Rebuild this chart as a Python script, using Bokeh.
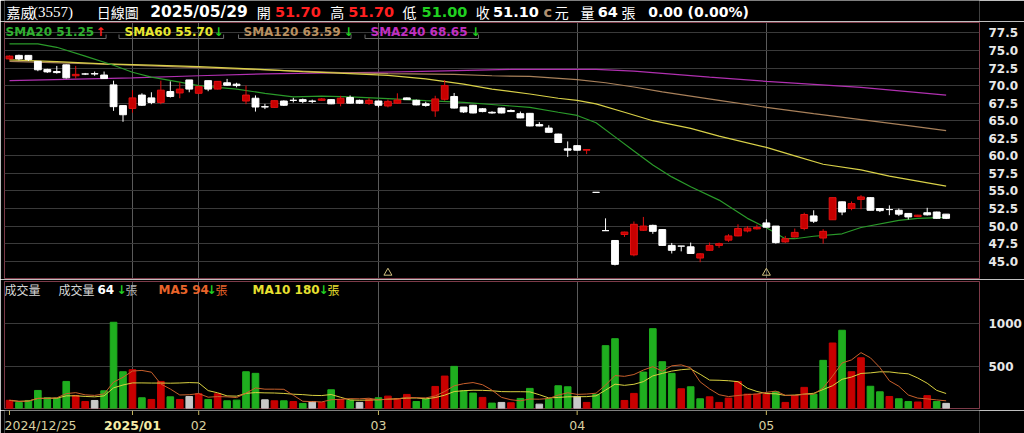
import numpy as np
import pandas as pd
from bokeh.plotting import figure
from bokeh.models import ColumnDataSource, FixedTicker, Label, Range1d, NumeralTickFormatter
from bokeh.layouts import column
from bokeh.embed import file_html
from bokeh.resources import INLINE

# ---------------- data ----------------
tick_idx = [0, 13, 20, 39, 60, 80]
tick_labels = ["2024/12/25", "2025/01", "02", "03", "04", "05"]
month_line_idx = [13, 20, 39, 60, 80]

opens = [73.8, 74.3, 74.3, 73.45, 72.3, 72.0, 72.95, 71.4, 71.65, 71.7,
         71.5, 70.1, 67.15, 66.75, 68.65, 68.25, 67.6, 69.15, 68.95, 70.8,
         68.9, 70.7, 69.5, 70.4, 70.2, 67.8, 68.2, 67.0, 66.9, 67.8,
         67.9, 68.0, 67.8, 67.9, 68.0, 67.5, 68.3, 67.9, 67.46, 67.8,
         67.1, 67.5, 68.25, 67.9, 67.4, 66.4, 68.05, 68.45, 66.95, 67.2,
         66.7, 66.2, 66.8, 66.45, 66.0, 66.05, 64.45, 63.95, 63.1, 61.0,
         61.45, 60.8, 54.8, 49.35, 47.95, 48.8, 45.9, 49.4, 50.1, 49.5,
         47.25, 47.15, 47.05, 45.45, 46.55, 47.25, 48.0, 48.6, 49.3, 49.6,
         50.45, 50.0, 47.75, 48.45, 49.65, 51.45, 48.3, 50.9, 53.45, 52.5,
         53.8, 54.05, 52.5, 52.35, 52.25, 51.8, 51.35, 51.9, 52.0, 51.7]
highs = [74.3, 74.4, 74.35, 73.5, 72.4, 72.8, 73.0, 72.8, 71.8, 72.0,
         72.0, 70.7, 67.15, 69.35, 68.9, 69.05, 70.7, 70.6, 70.45, 70.8,
         70.0, 70.7, 70.65, 70.95, 70.4, 70.0, 68.6, 67.4, 67.9, 67.9,
         68.25, 68.15, 68.0, 68.2, 68.05, 68.55, 68.6, 68.0, 68.2, 67.85,
         68.0, 68.9, 68.3, 68.0, 67.7, 68.55, 70.8, 68.95, 66.95, 67.25,
         66.8, 66.35, 66.85, 66.6, 66.3, 66.1, 64.8, 64.35, 63.15, 62.05,
         61.5, 60.95, 54.8, 51.1, 47.95, 49.2, 50.65, 51.3, 50.2, 49.55,
         47.6, 47.15, 47.65, 46.15, 47.65, 47.65, 48.85, 50.25, 50.0, 50.2,
         50.95, 50.0, 48.6, 49.65, 51.9, 52.25, 49.55, 54.05, 53.5, 53.5,
         54.4, 54.1, 52.5, 52.95, 52.5, 51.8, 51.6, 52.6, 52.05, 51.7]
lows = [73.6, 73.6, 73.5, 72.05, 71.8, 71.7, 71.0, 71.0, 71.5, 71.4,
        70.95, 66.4, 64.85, 66.15, 67.1, 67.35, 67.35, 68.3, 68.2, 69.05,
        68.8, 69.2, 69.45, 69.95, 69.75, 67.35, 66.3, 66.65, 66.85, 67.1,
        67.6, 67.5, 67.5, 67.85, 67.35, 67.05, 67.45, 67.4, 67.25, 66.9,
        66.9, 67.4, 67.95, 67.2, 67.0, 65.55, 67.85, 66.75, 66.1, 66.05,
        66.2, 66.0, 66.05, 66.25, 65.35, 64.2, 64.2, 63.3, 61.85, 59.85,
        60.75, 60.25, 54.8, 49.35, 44.4, 48.45, 45.7, 49.3, 48.9, 47.2,
        46.1, 46.4, 46.05, 44.85, 46.5, 46.9, 47.75, 48.55, 49.1, 49.5,
        49.8, 47.5, 47.6, 48.4, 49.4, 50.45, 47.5, 50.9, 51.55, 52.25,
        52.4, 52.25, 52.0, 51.55, 51.45, 50.95, 51.3, 51.5, 51.05, 51.0]
closes = [74.2, 73.8, 73.7, 72.25, 71.95, 71.85, 71.1, 71.6, 71.65, 71.65,
          71.0, 67.0, 65.85, 68.25, 67.2, 67.6, 69.35, 68.45, 69.5, 69.5,
          69.85, 69.5, 70.6, 70.05, 70.0, 68.65, 66.95, 66.95, 67.85, 67.2,
          67.9, 67.75, 67.75, 68.1, 67.4, 68.2, 67.5, 67.5, 67.9, 67.2,
          67.75, 67.95, 68.0, 67.25, 67.18, 68.1, 70.0, 66.8, 66.25, 66.1,
          66.3, 66.1, 66.1, 66.3, 65.4, 64.25, 64.25, 63.35, 61.9, 60.8,
          60.8, 60.9, 54.8, 49.35, 44.55, 49.15, 50.25, 50.0, 49.25, 47.25,
          46.55, 47.15, 46.1, 46.05, 47.25, 47.5, 48.6, 49.65, 49.7, 49.8,
          49.85, 47.65, 48.2, 49.1, 51.65, 50.7, 49.25, 54.05, 52.0, 53.2,
          54.15, 52.25, 52.2, 52.35, 51.7, 51.3, 51.55, 51.6, 51.1, 51.1]
volumes = [100, 75, 98, 216, 130, 126, 322, 157, 86, 98,
           212, 1018, 436, 460, 130, 110, 322, 141, 110, 145,
           177, 110, 177, 94, 102, 436, 417, 106, 94, 94,
           86, 63, 86, 75, 224, 110, 102, 75, 110, 130,
           149, 118, 169, 86, 118, 263, 385, 499, 212, 185,
           134, 67, 75, 71, 122, 240, 55, 118, 271, 259,
           145, 75, 169, 743, 825, 98, 181, 432, 943, 554,
           417, 236, 259, 118, 141, 75, 126, 322, 173, 173,
           173, 200, 75, 157, 252, 173, 570, 774, 924, 436,
           600, 265, 200, 145, 118, 85, 80, 155, 85, 64]
# u = up (red), d = down (green), f = flat (gray)
vol_dir = list("udddddduuf" "ddduduuduf" "ududdddfud" "udfududfud" "uuudduuddd"
               "udfuddfddd" "fuddduuddd" "dudduuuuuu" "uduuuddudu" "uddudduudf")

sma20_idx = [0, 3, 5, 8, 11, 13, 15, 18, 20, 24, 27, 30, 33, 36, 40, 44, 48, 52, 55, 58,
             60, 62, 64, 66, 68, 70, 72, 75, 78, 80, 82, 83, 85, 88, 90, 94, 96, 99]
sma20_val = [75.95, 75.95, 75.45, 74.2, 72.9, 71.9, 71.2, 70.5, 70.0, 69.5, 68.9, 68.4, 68.5,
             68.4, 68.15, 67.85, 67.6, 67.2, 66.9, 66.2, 65.75, 64.7, 62.7, 60.7, 58.7, 57.0,
             55.6, 53.7, 51.1, 49.75, 48.2, 48.2, 48.55, 48.9, 49.8, 50.8, 51.1, 51.25]
sma60_idx = [0, 5, 10, 15, 20, 26, 31, 36, 40, 44, 48, 51, 55, 58, 60, 62, 65, 68, 72, 75,
             80, 83, 86, 90, 93, 96, 99]
sma60_val = [73.66, 73.4, 73.1, 72.9, 72.7, 72.35, 72.0, 71.7, 71.45, 70.95, 70.2, 69.5, 68.8,
             68.2, 67.9, 67.4, 66.2, 65.0, 63.9, 62.8, 61.2, 60.0, 58.8, 58.0, 57.1, 56.4, 55.7]
sma120_idx = [0, 10, 20, 30, 35, 40, 47, 51, 55, 60, 63, 66, 69, 75, 80, 85, 90, 95, 99]
sma120_val = [73.45, 73.05, 72.55, 72.1, 71.85, 71.7, 71.6, 71.4, 71.3, 70.85, 70.4, 69.8,
              69.1, 67.9, 66.9, 66.0, 65.15, 64.3, 63.59]
sma240_idx = [0, 13, 20, 27, 34, 39, 45, 53, 62, 66, 69, 74, 80, 90, 99]
sma240_val = [70.7, 71.1, 71.4, 71.66, 71.8, 71.9, 72.05, 72.3, 72.3, 72.05, 71.75, 71.2,
              70.6, 69.75, 68.65]

event_idx = [40, 80]
price_ticks = [45.0, 47.5, 50.0, 52.5, 55.0, 57.5, 60.0, 62.5, 65.0, 67.5, 70.0, 72.5, 75.0, 77.5]
vol_ticks = [500, 1000]

# ---------------- geometry (pixels of the 1024x433 page) ----------------
W = 1024
FR_L, FR_R = 4, 983                 # frame left / right
HDR_H = 21                          # header strip 0..21
P_H, P_TOP, P_BOT = 258, 22, 278    # price figure 21..279, frame 22..278
V_H, V_TOP, V_BOT = 131, 281, 408   # volume figure 279..410, frame 281..408
D_H = 23                            # date strip 410..433
mbl, mbr = FR_L, W - FR_R

x_start = (FR_L - 9) / 9.5
x_end = (FR_R - 9) / 9.5

kp = (260.7 - 32.4) / 32.5          # px per price unit
py_end = 77.5 + (32.4 - P_TOP) / kp
py_start = 45.0 - (P_BOT - 260.7) / kp

kv = 0.085                          # px per lot
vy_end = (408.3 - V_TOP) / kv
vy_start = (408.3 - V_BOT) / kv

BG = "#000000"
FRAME = "#7c3a48"
RED = "#c80000"
REDL = "#e01010"
WHITE = "#ffffff"
GREEN = "#1fae1f"
GRAY = "#c8c8c8"
NUMF = "DejaVu Sans"
CJK = "Noto Sans CJK TC"


def style_raxis(fig):
    for ax in fig.yaxis:
        ax.major_tick_line_color = None
        ax.minor_tick_line_color = None
        ax.axis_line_color = None
        ax.major_label_text_color = "#e8e8e8"
        ax.major_label_text_font = NUMF
        ax.major_label_text_font_style = "bold"
        ax.major_label_text_font_size = "12px"
        ax.major_label_standoff = 3


# ---------------- header strip ----------------
hdr = figure(width=W, height=HDR_H, x_range=Range1d(0, W), y_range=Range1d(HDR_H, 0),
             output_backend="svg", toolbar_location=None, x_axis_location=None,
             y_axis_location=None, min_border=0, background_fill_color=BG,
             border_fill_color=BG, outline_line_color=None)
hdr.xgrid.visible = False
hdr.ygrid.visible = False


def htxt(text, x, color, size=14.5, bold=True, font=NUMF):
    hdr.add_layout(Label(x=x, y=11, text=text, text_color=color, text_font_size=f"{size}px",
                         text_font_style="bold" if bold else "normal", text_font=font,
                         text_baseline="middle", text_align="left"))


htxt("嘉威", 2, WHITE, 14, False, CJK)
htxt("(3557)", 30, WHITE, 15, False, "Liberation Serif")
htxt("日線圖", 97, WHITE, 14, False, CJK)
htxt("2025/05/29", 153, WHITE, 15.5)
htxt("開", 265, WHITE, 14, False, CJK)
htxt("51.70", 284, "#ff2020")
htxt("高", 342, WHITE, 14, False, CJK)
htxt("51.70", 361, "#ff2020")
htxt("低", 418, WHITE, 14, False, CJK)
htxt("51.00", 438, "#20d020")
htxt("收", 495, WHITE, 14, False, CJK)
htxt("51.10", 513, WHITE)
htxt("c", 566, "#b09070")
htxt("元", 578, WHITE, 14, False, CJK)
htxt("量", 605, WHITE, 14, False, CJK)
htxt("64", 623, WHITE)
htxt("張", 648, WHITE, 14, False, CJK)
htxt("0.00 (0.00%)", 676, WHITE, 14)

# ---------------- price panel ----------------
n = len(closes)
idx = list(range(n))
df = pd.DataFrame(dict(i=idx, o=opens, h=highs, l=lows, c=closes))
df["top"] = df[["o", "c"]].max(axis=1)
df["bot"] = df[["o", "c"]].min(axis=1)
df["fill"] = np.where(df.c > df.o, RED, WHITE)
df["line"] = np.where(df.c > df.o, REDL, WHITE)
src = ColumnDataSource(df)

p1 = figure(width=W, height=P_H, x_range=Range1d(x_start, x_end), y_range=Range1d(py_start, py_end),
            output_backend="svg", toolbar_location=None, x_axis_location=None,
            y_axis_location="right", min_border_left=mbl, min_border_right=mbr,
            min_border_top=P_TOP - HDR_H, min_border_bottom=HDR_H + P_H - P_BOT,
            background_fill_color=BG, border_fill_color=BG, outline_line_color=FRAME)
p1.yaxis.ticker = FixedTicker(ticks=price_ticks)
p1.yaxis.formatter = NumeralTickFormatter(format="0.0")
style_raxis(p1)
p1.ygrid.grid_line_color = "#3a3a3a"
p1.xgrid.ticker = FixedTicker(ticks=month_line_idx)
p1.xgrid.grid_line_color = "#5a5a5a"

p1.line(sma240_idx, sma240_val, color="#b030b0", line_width=1.2)
p1.line(sma120_idx, sma120_val, color="#a8805a", line_width=1.2)
p1.line(sma60_idx, sma60_val, color="#d8d048", line_width=1.2)
p1.line(sma20_idx, sma20_val, color="#2a9a2a", line_width=1.2)

p1.segment(x0="i", y0="h", x1="i", y1="l", line_color="line", line_width=1, source=src)
p1.vbar(x="i", width=0.72, top="top", bottom="bot", fill_color="fill", line_color="line",
        line_width=1, source=src)

ev_y = [py_start + (py_end - py_start) * 0.022] * len(event_idx)
p1.scatter(event_idx, ev_y, marker="triangle", size=8, fill_alpha=0, line_color="#d0c080",
           line_width=1)


def ptxt(fig, fig_top, fig_h, fig_mbb, text, rx, ry, color, size=12, bold=True, font=NUMF):
    sx = rx - mbl
    sy = (fig_h - fig_mbb) - (ry - fig_top)
    fig.add_layout(Label(x=sx, y=sy, x_units="screen", y_units="screen", text=text,
                         text_color=color, text_font_size=f"{size}px",
                         text_font_style="bold" if bold else "normal", text_font=font,
                         text_baseline="middle", text_align="left"))


# legend tabs (thin gray brackets under each moving-average legend item)
def px2i(px):
    return (px - 9) / 9.5


def py2p(py):
    return py_end - (py - P_TOP) / kp


tabs = [(3, 106), (119, 224), (239, 352), (366, 480)]
tx0, tx1, ty0, ty1 = [], [], [], []
for a, b in tabs:
    tx0 += [px2i(a), px2i(a), px2i(b)]
    tx1 += [px2i(b), px2i(a), px2i(b)]
    ty0 += [py2p(38), py2p(38), py2p(38)]
    ty1 += [py2p(38), py2p(34), py2p(34)]
p1.segment(x0=tx0, y0=ty0, x1=tx1, y1=ty1, line_color="#6a6a6a", line_width=1)

p1_mbb = HDR_H + P_H - P_BOT
legend_items = [("SMA20 51.25", 5, "#30b030", "↑", 95, "#ff2020"),
                ("SMA60 55.70", 124, "#e8e830", "↓", 213, "#20d020"),
                ("SMA120 63.59", 243, "#b89060", "↓", 343, "#20d020"),
                ("SMA240 68.65", 370, "#c030c0", "↓", 470, "#20d020")]
for t, x, c, a, ax_, ac in legend_items:
    ptxt(p1, HDR_H, P_H, p1_mbb, t, x, 31, c)
    ptxt(p1, HDR_H, P_H, p1_mbb, a, ax_, 31, ac)

# ---------------- volume panel ----------------
dcol = {"u": RED, "d": GREEN, "f": GRAY}
vdf = pd.DataFrame(dict(i=idx, v=volumes, col=[dcol[d] for d in vol_dir]))
vsrc = ColumnDataSource(vdf)
ma5 = pd.Series(volumes).rolling(5, min_periods=1).mean()
ma10 = pd.Series(volumes).rolling(10, min_periods=1).mean()

V0 = HDR_H + P_H
p2_mbb = V0 + V_H - V_BOT
p2 = figure(width=W, height=V_H, x_range=p1.x_range, y_range=Range1d(vy_start, vy_end),
            output_backend="svg", toolbar_location=None, x_axis_location=None,
            y_axis_location="right", min_border_left=mbl, min_border_right=mbr,
            min_border_top=V_TOP - V0, min_border_bottom=p2_mbb,
            background_fill_color=BG, border_fill_color=BG, outline_line_color=FRAME)
p2.yaxis.ticker = FixedTicker(ticks=vol_ticks)
style_raxis(p2)
p2.ygrid.grid_line_color = "#3a3a3a"
p2.xgrid.ticker = FixedTicker(ticks=month_line_idx)
p2.xgrid.grid_line_color = "#5a5a5a"

p2.vbar(x="i", width=0.7, top="v", bottom=0, fill_color="col", line_color="col", source=vsrc)
p2.line(idx, list(ma10), color="#d8d040", line_width=1)
p2.line(idx, list(ma5), color="#c8602c", line_width=1)

vy = 289
ptxt(p2, V0, V_H, p2_mbb, "成交量", 4, vy, "#d8d8d8", 12, False, CJK)
ptxt(p2, V0, V_H, p2_mbb, "成交量", 58, vy, "#d8d8d8", 12, False, CJK)
ptxt(p2, V0, V_H, p2_mbb, "64", 97, vy, WHITE)
ptxt(p2, V0, V_H, p2_mbb, "↓", 116, vy, "#20d020")
ptxt(p2, V0, V_H, p2_mbb, "張", 125, vy, "#b0b0b0", 12, False, CJK)
ptxt(p2, V0, V_H, p2_mbb, "MA5 94", 158, vy, "#e8642a")
ptxt(p2, V0, V_H, p2_mbb, "↓", 206, vy, "#20d020")
ptxt(p2, V0, V_H, p2_mbb, "張", 215, vy, "#e8642a", 12, False, CJK)
ptxt(p2, V0, V_H, p2_mbb, "MA10 180", 252, vy, "#e8e030")
ptxt(p2, V0, V_H, p2_mbb, "↓", 318, vy, "#20d020")
ptxt(p2, V0, V_H, p2_mbb, "張", 327, vy, "#e8e030", 12, False, CJK)

# ---------------- date strip ----------------
D0 = V0 + V_H
pd_ = figure(width=W, height=D_H, x_range=p1.x_range, y_range=Range1d(433, D0),
             output_backend="svg", toolbar_location=None, x_axis_location=None,
             y_axis_location=None, min_border_left=mbl, min_border_right=mbr,
             min_border_top=0, min_border_bottom=0, background_fill_color=BG,
             border_fill_color=BG, outline_line_color=None)
pd_.xgrid.visible = False
pd_.ygrid.visible = False
pd_.segment(x0=tick_idx, y0=[D0] * len(tick_idx), x1=tick_idx, y1=[D0 + 4.5] * len(tick_idx),
            line_color="#c8b860", line_width=1)
for k, (ti, tl) in enumerate(zip(tick_idx, tick_labels)):
    if k == 0:
        pd_.add_layout(Label(x=x_start, y=425, text=tl, text_color="#d8d0a0",
                             text_font_size="12.5px", text_font=NUMF, text_baseline="middle",
                             text_align="left"))
    else:
        bold = tl == "2025/01"
        pd_.add_layout(Label(x=ti, y=425, text=tl,
                             text_color="#f4eca8" if bold else "#d8d0a0",
                             text_font_size="12.5px", text_font=NUMF,
                             text_font_style="bold" if bold else "normal",
                             text_baseline="middle", text_align="center"))

layout = column(hdr, p1, p2, pd_, spacing=0)
open("out.html", "w").write(file_html(layout, INLINE))
